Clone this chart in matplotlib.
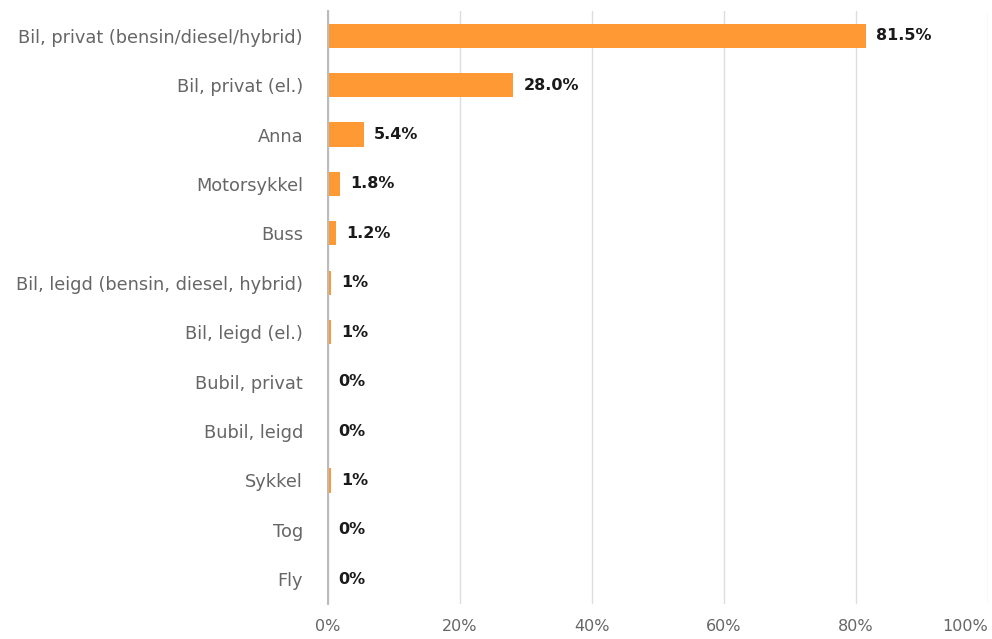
import matplotlib
matplotlib.use("Agg")
import matplotlib.pyplot as plt
from matplotlib.ticker import FuncFormatter

categories = ["Bil, privat (bensin/diesel/hybrid)", "Bil, privat (el.)", "Anna", "Motorsykkel",
              "Buss", "Bil, leigd (bensin, diesel, hybrid)", "Bil, leigd (el.)", "Bubil, privat",
              "Bubil, leigd", "Sykkel", "Tog", "Fly"]
values = [81.5, 28.0, 5.4, 1.8, 1.2, 0.4, 0.4, 0.0, 0.0, 0.4, 0.0, 0.0]
value_labels = ["81.5%", "28.0%", "5.4%", "1.8%", "1.2%", "1%", "1%", "0%", "0%", "1%", "0%", "0%"]
x_ticks = [0, 20, 40, 60, 80, 100]

fig = plt.figure(figsize=(9.92, 6.39), dpi=100)
ax = fig.add_axes([328/992, 1-604/639, 660/992, 593/639])

y = list(range(len(categories)))
ax.barh(y, values, height=0.49, color="#FF9933", zorder=3)
for yi, v, lab in zip(y, values, value_labels):
    ax.text(v + 1.6, yi, lab, va="center", ha="left", fontsize=11.5, fontweight="bold",
            color="#1a1a1a", zorder=4)

ax.set_yticks(y)
ax.set_yticklabels(categories, fontsize=12.8, color="#666666")
ax.set_ylim(len(categories) - 0.5, -0.5)
ax.set_xlim(0, 100)
ax.set_xticks(x_ticks)
ax.xaxis.set_major_formatter(FuncFormatter(lambda v, p: f"{int(v)}%"))
ax.tick_params(axis="x", labelsize=11.5, labelcolor="#666666", length=0, pad=11)
ax.tick_params(axis="y", length=0, pad=18)
xt = ax.get_xticklabels()
xt[-1].set_horizontalalignment("right")
ax.grid(axis="x", color="#dddddd", linewidth=1, zorder=0)
for s in ["top", "right", "bottom"]:
    ax.spines[s].set_visible(False)
ax.spines["left"].set_color("#bbbbbb")
ax.spines["left"].set_linewidth(1.5)
ax.spines["left"].set_zorder(5)

fig.savefig("out.png", dpi=100)
